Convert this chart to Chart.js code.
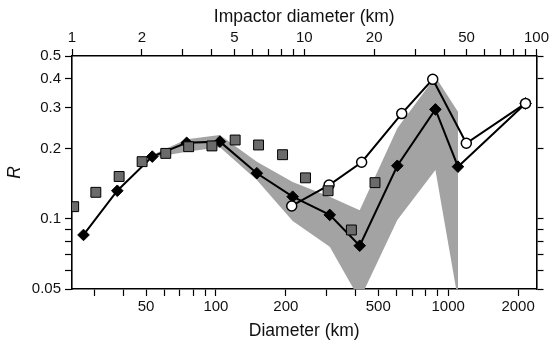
<!DOCTYPE html>
<html>
<head>
<meta charset="utf-8">
<script src="https://cdn.jsdelivr.net/npm/chart.js@4.4.1/dist/chart.umd.min.js"></script>
<style>
  html, body { margin: 0; padding: 0; background: #ffffff; }
  canvas { display: block; }
</style>
</head>
<body>
<canvas id="chart" width="551" height="342"></canvas>
<script>
// diamonds (black, joined)
const diamondD = [26.9, 37.6, 53.2, 74.8, 104, 150, 214, 309, 416, 604, 881, 1102, 2153];
const diamondR = [0.0853, 0.132, 0.185, 0.212, 0.2145, 0.157, 0.1245, 0.104, 0.0767, 0.169, 0.295, 0.1675, 0.313];

// open circles (joined)
const circleD = [212, 307, 424, 631, 858, 1197, 2153];
const circleR = [0.1136, 0.1397, 0.175, 0.283, 0.397, 0.211, 0.313];

// grey squares (no line)
const squareD = [24.4, 30.4, 38.3, 48.1, 60.8, 76.3, 96.1, 121, 152.6, 193.6, 243, 304, 383, 484];
const squareR = [0.1128, 0.130, 0.152, 0.176, 0.191, 0.204, 0.2056, 0.218, 0.2075, 0.1885, 0.150, 0.132, 0.0896, 0.143];

// grey band around the diamonds
const bandD = [53.2, 74.8, 104, 150, 214, 309, 416, 604, 881, 1102];
const bandHigh = [0.188, 0.2195, 0.229, 0.176, 0.144, 0.1245, 0.109, 0.245, 0.407, 0.288];
const bandLow = [0.183, 0.194, 0.203, 0.147, 0.098, 0.076, 0.045, 0.099, 0.162, 0.045];

// axis ticks
const xTicks = [30, 40, 50, 60, 70, 80, 90, 100, 200, 300, 400, 500, 600, 700, 800, 900, 1000, 2000];
const xLabels = [50, 100, 200, 500, 1000, 2000];
const topTicks = [1, 2, 3, 4, 5, 6, 7, 8, 9, 10, 20, 30, 40, 50, 60, 70, 80, 90, 100];
const topLabels = [1, 2, 5, 10, 20, 50, 100];
const yTicks = [0.05, 0.06, 0.07, 0.08, 0.09, 0.1, 0.2, 0.3, 0.4, 0.5];
const yLabels = [0.05, 0.1, 0.2, 0.3, 0.4, 0.5];

const FONT = "'Liberation Sans', Arial, Helvetica, sans-serif";

const pts = (xs, ys) => xs.map((x, i) => ({ x, y: ys[i] }));

function setTicks(list) {
  return (scale) => {
    scale.ticks = list.map((v) => ({ value: v }));
  };
}

function labelFor(list) {
  return (value) => (list.includes(value) ? String(value) : "");
}

const frame = {
  display: true,
  color: "#000",
  width: 1.6
};

const tickGrid = {
  display: true,
  drawOnChartArea: false,
  drawTicks: true,
  tickLength: 7,
  tickWidth: 1.2,
  tickColor: "#000",
  color: "#000"
};

const tickFont = { family: FONT, size: 15 };
const titleFont = { family: FONT, size: 17.5 };

new Chart(document.getElementById("chart"), {
  type: "scatter",
  data: {
    datasets: [
      {
        data: pts(squareD, squareR),
        showLine: false,
        pointStyle: "rect",
        pointRadius: 7,
        backgroundColor: "#6b6b6b",
        borderColor: "#000",
        pointBorderWidth: 1,
        order: 0
      },
      {
        data: pts(circleD, circleR),
        showLine: true,
        borderColor: "#000",
        borderWidth: 2,
        pointStyle: "circle",
        pointRadius: 5,
        pointBackgroundColor: "#fff",
        pointBorderColor: "#000",
        pointBorderWidth: 1.5,
        order: 1
      },
      {
        data: pts(diamondD, diamondR),
        showLine: true,
        borderColor: "#000",
        borderWidth: 2,
        pointStyle: "rectRot",
        pointRadius: 5.8,
        pointBackgroundColor: "#000",
        pointBorderColor: "#000",
        pointBorderWidth: 1,
        order: 2
      },
      {
        data: pts(bandD, bandHigh),
        showLine: true,
        borderWidth: 0,
        borderColor: "rgba(0,0,0,0)",
        pointRadius: 0,
        backgroundColor: "#a3a3a3",
        fill: "+1",
        order: 3
      },
      {
        data: pts(bandD, bandLow),
        showLine: true,
        borderWidth: 0,
        borderColor: "rgba(0,0,0,0)",
        pointRadius: 0,
        fill: false,
        order: 4
      }
    ]
  },
  options: {
    responsive: false,
    animation: false,
    layout: { padding: 0 },
    plugins: {
      legend: { display: false },
      tooltip: { enabled: false }
    },
    scales: {
      x: {
        type: "logarithmic",
        position: "bottom",
        min: 24,
        max: 2400,
        border: frame,
        grid: tickGrid,
        afterBuildTicks: setTicks(xTicks),
        afterFit: (s) => { s.height = 53; },
        ticks: {
          autoSkip: false,
          maxRotation: 0,
          padding: 2,
          color: "#111",
          font: tickFont,
          callback: labelFor(xLabels)
        },
        title: {
          display: true,
          text: "Diameter (km)",
          color: "#111",
          font: titleFont,
          padding: { top: 0, bottom: 0 }
        }
      },
      x2: {
        type: "logarithmic",
        position: "top",
        min: 1,
        max: 100,
        border: frame,
        grid: tickGrid,
        afterBuildTicks: setTicks(topTicks),
        afterFit: (s) => { s.height = 56; },
        ticks: {
          autoSkip: false,
          maxRotation: 0,
          padding: 2,
          color: "#111",
          font: tickFont,
          callback: labelFor(topLabels)
        },
        title: {
          display: true,
          text: "Impactor diameter (km)",
          color: "#111",
          font: titleFont,
          padding: { top: 7, bottom: 0 }
        }
      },
      y: {
        type: "logarithmic",
        position: "left",
        min: 0.05,
        max: 0.5,
        border: frame,
        grid: tickGrid,
        afterBuildTicks: setTicks(yTicks),
        afterFit: (s) => { s.width = 72; },
        ticks: {
          autoSkip: false,
          padding: 4,
          color: "#111",
          font: tickFont,
          callback: labelFor(yLabels)
        },
        title: {
          display: true,
          text: "R",
          color: "#111",
          font: { family: FONT, size: 17.5, style: "italic" },
          padding: { top: 5, bottom: 0 }
        }
      },
      y2: {
        type: "logarithmic",
        position: "right",
        min: 0.05,
        max: 0.5,
        border: frame,
        grid: tickGrid,
        afterBuildTicks: setTicks(yTicks),
        afterFit: (s) => { s.width = 14; },
        ticks: {
          autoSkip: false,
          padding: 0,
          font: tickFont,
          callback: () => ""
        }
      }
    }
  }
});
</script>
</body>
</html>
